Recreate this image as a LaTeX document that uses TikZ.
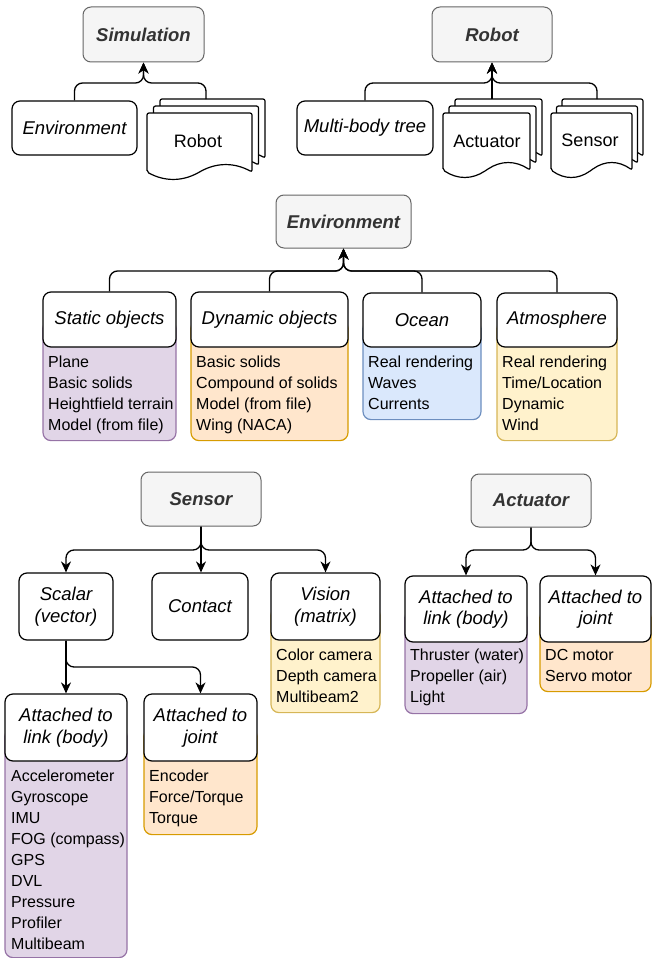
\documentclass[tikz,border=0pt]{standalone}
\usepackage{fontspec}
\setmainfont{Liberation Sans}
\usetikzlibrary{arrows.meta}
\definecolor{tfill}{HTML}{F5F5F5}
\definecolor{tdraw}{HTML}{666666}
\definecolor{ttext}{HTML}{333333}
\definecolor{pfill}{HTML}{E1D5E7}
\definecolor{pdraw}{HTML}{9673A6}
\definecolor{ofill}{HTML}{FFE6CC}
\definecolor{odraw}{HTML}{D79B00}
\definecolor{bfill}{HTML}{DAE8FC}
\definecolor{bdraw}{HTML}{6C8EBF}
\definecolor{yfill}{HTML}{FFF2CC}
\definecolor{ydraw}{HTML}{D6B656}
\newcommand\docpage[4]{%
  \filldraw[docpagestyle] (#1,#2+#4) -- (#1,#2) -- (#1+#3,#2) -- (#1+#3,#2+#4)
    .. controls (#1+#3*5/6,#2+#4-9.6) and (#1+#3*2/3,#2+#4-9.6) .. (#1+#3/2,#2+#4)
    .. controls (#1+#3/3,#2+#4+9.6) and (#1+#3/6,#2+#4+9.6) .. (#1,#2+#4) -- cycle;}
\newcommand\fs{\rule{0pt}{13.7pt}}
\tikzset{
  titlebox/.style={draw=tdraw, fill=tfill, rounded corners=8pt, line width=1pt, text=ttext,
    font=\fontsize{18.5}{21.5}\selectfont\bfseries\itshape, inner sep=0pt},
  hbox/.style={draw=black, fill=white, rounded corners=8pt, line width=1.2pt, align=center,
    font=\fontsize{18.5}{21.5}\selectfont\itshape, inner sep=0pt},
  pbody/.style={draw=pdraw, fill=pfill, rounded corners=8pt, line width=1.2pt, anchor=north, inner sep=0pt},
  obody/.style={draw=odraw, fill=ofill, rounded corners=8pt, line width=1.2pt, anchor=north, inner sep=0pt},
  bbody/.style={draw=bdraw, fill=bfill, rounded corners=8pt, line width=1.2pt, anchor=north, inner sep=0pt},
  ybody/.style={draw=ydraw, fill=yfill, rounded corners=8pt, line width=1.2pt, anchor=north, inner sep=0pt},
  listtext/.style={anchor=north west, inner sep=0pt, align=left, font=\fontsize{16}{21}\selectfont},
  docpagestyle/.style={draw=black, fill=white, line width=1.2pt, rounded corners=2pt},
  doctext/.style={inner sep=0pt, font=\fontsize{18}{21}\selectfont},
  conn/.style={draw=black, line width=1.3pt, rounded corners=8pt, -{Stealth[length=11pt,width=10pt,inset=3.5pt]}},
}
\begin{document}
\begin{tikzpicture}[x=1pt,y=-1pt]
\useasboundingbox (0,0) rectangle (652,958);

% ---------------- Simulation ----------------
\node[titlebox, minimum width=121pt, minimum height=55pt] (sim) at (143.5,34.5) {Simulation};
\node[hbox, minimum width=125pt, minimum height=54pt] (envs) at (74.5,128) {Environment};
\docpage{160}{99}{105}{59}
\docpage{153.5}{106}{105}{59}
\docpage{147}{113}{105}{59}
\node[doctext] (robotdoc) at (198,141) {Robot};
\coordinate (robottop) at (206,99);
\coordinate (simj) at (143.5,83);
\draw[conn] (envs.north) |- (simj) -- (sim.south);
\draw[conn] (robottop) |- (simj) -- (sim.south);

% ---------------- Robot ----------------
\node[titlebox, minimum width=120pt, minimum height=55pt] (robot) at (492,34.5) {Robot};
\node[hbox, minimum width=136pt, minimum height=54pt] (multi) at (365,128) {Multi-body tree};
\docpage{455}{99}{87}{57}
\docpage{449}{106}{87}{57}
\docpage{443}{113}{87}{57}
\node[doctext] (actdoc) at (487,141) {Actuator};
\docpage{562}{99}{81}{57}
\docpage{556.5}{106}{81}{57}
\docpage{551}{113}{81}{57}
\node[doctext] (sensdoc) at (590,140) {Sensor};
\coordinate (acttop) at (492,99);
\coordinate (senstop) at (597,99);
\coordinate (robj) at (492,83);
\draw[conn] (multi.north) |- (robj) -- (robot.south);
\draw[conn] (acttop) -- (robot.south);
\draw[conn] (senstop) |- (robj) -- (robot.south);

% ---------------- Environment ----------------
\node[titlebox, minimum width=135pt, minimum height=53pt] (envt) at (343.5,221.5) {Environment};
\node[pbody, minimum width=133pt, minimum height=120.5pt] (statb) at (109.5,319.5) {};
\node[hbox, minimum width=133pt, minimum height=55pt] (stat) at (109.5,319.5) {Static objects};
\node[listtext] (statl) at (48,354) {\fs Plane\\Basic solids\\Heightfield terrain\\Model (from file)};
\node[obody, minimum width=157pt, minimum height=120.5pt] (dynb) at (269.5,319.5) {};
\node[hbox, minimum width=157pt, minimum height=55pt] (dyn) at (269.5,319.5) {Dynamic objects};
\node[listtext] (dynl) at (196,354) {\fs Basic solids\\Compound of solids\\Model (from file)\\Wing (NACA)};
\node[bbody, minimum width=118pt, minimum height=99pt] (oceb) at (422,320) {};
\node[hbox, minimum width=118pt, minimum height=54pt] (oce) at (422,320) {Ocean};
\node[listtext] (ocel) at (368,354) {\fs Real rendering\\Waves\\Currents};
\node[ybody, minimum width=120pt, minimum height=120pt] (atmb) at (557,320) {};
\node[hbox, minimum width=120pt, minimum height=54pt] (atm) at (557,320) {Atmosphere};
\node[listtext] (atml) at (502,354) {\fs Real rendering\\Time/Location\\Dynamic\\Wind};
\coordinate (envj) at (343.5,271);
\draw[conn] (stat.north) |- (envj) -- (envt.south);
\draw[conn] (dyn.north) |- (envj) -- (envt.south);
\draw[conn] (oce.north) |- (envj) -- (envt.south);
\draw[conn] (atm.north) |- (envj) -- (envt.south);

% ---------------- Sensor ----------------
\node[titlebox, minimum width=120pt, minimum height=54pt] (sensor) at (201,499) {Sensor};
\node[hbox, minimum width=94pt, minimum height=67pt] (scalar) at (66,606.5) {Scalar\\(vector)};
\node[hbox, minimum width=96pt, minimum height=67pt] (contact) at (200,606.5) {Contact};
\node[ybody, minimum width=109pt, minimum height=105.5pt] (visb) at (325.5,606.5) {};
\node[hbox, minimum width=109pt, minimum height=67pt] (vision) at (325.5,606.5) {Vision\\(matrix)};
\node[listtext] (visl) at (276,647) {\fs Color camera\\Depth camera\\Multibeam2};
\coordinate (sensj) at (201,550);
\draw[conn] (sensor.south) -- (sensj) -| (scalar.north);
\draw[conn] (sensor.south) -- (sensor.south |- contact.north);
\draw[conn] (sensor.south) -- (sensj) -| (vision.north);

\node[pbody, minimum width=122pt, minimum height=229.5pt] (slinkb) at (66,727.5) {};
\node[hbox, minimum width=122pt, minimum height=67pt] (slink) at (66,727.5) {Attached to\\link (body)};
\node[listtext] (slinkl) at (11,768) {\fs Accelerometer\\Gyroscope\\IMU\\FOG (compass)\\GPS\\DVL\\Pressure\\Profiler\\Multibeam};
\node[obody, minimum width=113pt, minimum height=106.5pt] (sjointb) at (200.5,727.5) {};
\node[hbox, minimum width=113pt, minimum height=67pt] (sjoint) at (200.5,727.5) {Attached to\\joint};
\node[listtext] (sjointl) at (149,768) {\fs Encoder\\Force/Torque\\Torque};
\coordinate (scalj) at (66,667);
\draw[conn] (scalar.south) -- (slink.north);
\draw[conn] (scalar.south) -- (scalj) -| (sjoint.north);

% ---------------- Actuator ----------------
\node[titlebox, minimum width=120pt, minimum height=53pt] (actt) at (531,500.5) {Actuator};
\node[pbody, minimum width=122pt, minimum height=104pt] (alinkb) at (466,609) {};
\node[hbox, minimum width=122pt, minimum height=66pt] (alink) at (466,609) {Attached to\\link (body)};
\node[listtext] (alinkl) at (410,647) {\fs Thruster (water)\\Propeller (air)\\Light};
\node[obody, minimum width=111pt, minimum height=82pt] (ajointb) at (595.5,609) {};
\node[hbox, minimum width=111pt, minimum height=66pt] (ajoint) at (595.5,609) {Attached to\\joint};
\node[listtext] (ajointl) at (545,647) {\fs DC motor\\Servo motor};
\coordinate (actj) at (531,550);
\draw[conn] (actt.south) -- (actj) -| (alink.north);
\draw[conn] (actt.south) -- (actj) -| (ajoint.north);
\end{tikzpicture}
\end{document}
